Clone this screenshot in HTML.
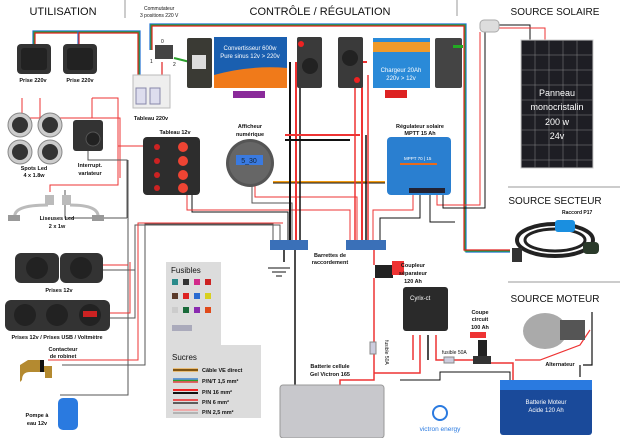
<!DOCTYPE html>
<html><head><meta charset="utf-8">
<style>
html,body{margin:0;padding:0;background:#fff;}
svg{display:block;font-family:"Liberation Sans",sans-serif;}
text{fill:#111;}
</style></head>
<body>
<svg width="620" height="438" viewBox="0 0 620 438">
<!-- headers -->
<g>
<text x="63" y="15" font-size="11" text-anchor="middle">UTILISATION</text>
<line x1="125" y1="0" x2="125" y2="18" stroke="#999" stroke-width="1"/>
<text x="144" y="10" font-size="5" fill="#333">Commutateur</text>
<text x="140" y="17" font-size="5" fill="#333">3 positions 220 V</text>
<text x="320" y="15" font-size="11" text-anchor="middle">CONTRÔLE / RÉGULATION</text>
<line x1="457" y1="0" x2="457" y2="16" stroke="#999" stroke-width="1"/>
<text x="555" y="15" font-size="10" text-anchor="middle">SOURCE SOLAIRE</text>
<line x1="508" y1="187" x2="620" y2="187" stroke="#999"/>
<text x="555" y="204" font-size="10" text-anchor="middle">SOURCE SECTEUR</text>
<text x="262" y="214" font-size="5" font-weight="bold" transform="translate(300,0)">Raccord P17</text>
<line x1="508" y1="282" x2="620" y2="282" stroke="#999"/>
<text x="555" y="302" font-size="10" text-anchor="middle">SOURCE MOTEUR</text>
</g>

<!-- rainbow 220V wires -->
<g fill="none" stroke-width="1.2">
<polyline points="33,44 33,31 140,31 140,75" stroke="#1e6fd0"/>
<polyline points="34,44 34,32 139,32 139,75" stroke="#2ca02c"/>
<polyline points="35,44 35,33 138,33 138,75" stroke="#e02020"/>
<polyline points="78,44 78,31" stroke="#1e6fd0"/>
<polyline points="79,44 79,32" stroke="#e02020"/>
<polyline points="150,50 150,24 466,24 466,252 510,252" stroke="#1e6fd0"/>
<polyline points="151,50 151,25 465,25 465,251 510,251" stroke="#2ca02c"/>
<polyline points="152,50 152,26 464,26 464,250 510,250" stroke="#e02020"/>
<polyline points="174,58 190,62" stroke="#2ca02c" stroke-width="2"/>
<polyline points="162,62 162,75" stroke="#e02020"/>
</g>

<!-- DC wires -->
<g fill="none" stroke-width="1">
<polyline points="22,98 22,118 120,118 120,178 " stroke="#e33"/>
<polyline points="40,98 40,118" stroke="#e33"/>
<polyline points="92,98 92,118" stroke="#e33"/>
<polyline points="92,98 118,98 118,185 50,185 50,192" stroke="#e33"/>
<polyline points="118,146 143,146" stroke="#e33"/>
<polyline points="88,150 88,160 127,160 127,218" stroke="#555"/>
<polyline points="65,190 65,218 127,218" stroke="#555"/>
<polyline points="128,160 128,395 60,395" stroke="#555"/>
<polyline points="103,265 128,265" stroke="#e33"/>
<polyline points="103,270 135,270 135,225 280,225 280,240" stroke="#555"/>
<polyline points="110,313 130,313 130,262" stroke="#e33"/>
<polyline points="110,318 135,318 135,270" stroke="#555"/>
<polyline points="48,360 138,360 138,223 283,223" stroke="#e33"/>
<polyline points="62,365 145,365 145,224 273,224 273,240" stroke="#555"/>
<polyline points="192,195 192,212 288,212 288,240" stroke="#111"/>
<polyline points="187,195 187,210 350,210 350,240" stroke="#e33"/>
<polyline points="252,185 252,203 292,203 292,240" stroke="#555"/>
<polyline points="255,185 255,197 357,197 357,240" stroke="#e33"/>
<polyline points="273,182 385,182" stroke="#f39c12" stroke-width="2"/>
<polyline points="273,183 385,183" stroke="#111" stroke-width="1"/>
<polyline points="290,62 290,240" stroke="#111" stroke-width="2"/>
<polyline points="296,62 296,240" stroke="#e33" stroke-width="2"/>
<polyline points="300,62 300,240" stroke="#111" stroke-width="1.5"/>
<polyline points="367,62 362,62 362,240" stroke="#e33" stroke-width="2"/>
<polyline points="366,135 366,240" stroke="#111" stroke-width="1.5"/>
<polyline points="355,70 355,240" stroke="#e33" stroke-width="1.5"/>
<polyline points="368,75 368,240" stroke="#e33" stroke-width="1.5"/>
<polyline points="285,135 360,135" stroke="#e33" stroke-width="2"/>
<polyline points="285,140 350,140" stroke="#111" stroke-width="2"/>
<polyline points="413,195 413,210 373,210 373,240" stroke="#e33"/>
<polyline points="420,195 420,218 380,218 380,240" stroke="#111"/>
<polyline points="430,195 430,222 455,222" stroke="#111"/>
<polyline points="437,195 437,205 480,205 480,32" stroke="#e33"/>
<polyline points="443,195 443,208 485,208 485,32 497,26" stroke="#111"/>
<polyline points="498,25 530,25 530,40" stroke="#111"/>
<polyline points="498,28 545,28 545,40" stroke="#e33"/>
<polyline points="284,250 284,262" stroke="#111" stroke-width="1.5"/>
<polyline points="295,250 295,395" stroke="#111" stroke-width="1.5"/>
<polyline points="374,250 374,265" stroke="#e33" stroke-width="1.5"/>
<polyline points="374,278 374,380 340,380 340,390" stroke="#e33" stroke-width="1.5"/>
<polyline points="374,373 420,373 420,335" stroke="#e33" stroke-width="1.5"/>
<polyline points="413,335 413,360" stroke="#e33" stroke-width="1.5"/>
<polyline points="428,335 428,360" stroke="#111" stroke-width="1.5"/>
<polyline points="436,335 436,360 485,360" stroke="#e33" stroke-width="1.5"/>
<polyline points="400,380 440,380 440,372 510,372 510,382" stroke="#111" stroke-width="1"/>
<polyline points="487,363 513,363 513,385" stroke="#e33" stroke-width="1.5"/>
<polyline points="580,365 580,377" stroke="#111" stroke-width="1.2"/>
<polyline points="592,312 592,365 583,365" stroke="#111" stroke-width="1.2"/>
<polyline points="590,330 580,345 540,360 515,360" stroke="#e33" stroke-width="1.2"/>
</g>

<!-- sockets 220 -->
<g>
<rect x="17" y="44" width="34" height="30" rx="4" fill="#333"/>
<rect x="21" y="48" width="26" height="22" rx="3" fill="#222"/>
<rect x="63" y="44" width="34" height="30" rx="4" fill="#333"/>
<rect x="67" y="48" width="26" height="22" rx="3" fill="#222"/>
<text x="33" y="82" font-size="5.5" text-anchor="middle" font-weight="bold">Prise 220v</text>
<text x="80" y="82" font-size="5.5" text-anchor="middle" font-weight="bold">Prise 220v</text>
</g>
<!-- commutateur & tableau 220 -->
<rect x="155" y="45" width="18" height="14" fill="#444"/>
<text x="161" y="43" font-size="5">0</text><text x="150" y="63" font-size="5">1</text><text x="173" y="66" font-size="5">2</text>
<rect x="133" y="75" width="37" height="33" fill="#eee" stroke="#bbb"/>
<rect x="136" y="88" width="10" height="16" fill="#dde" stroke="#88a"/><rect x="150" y="88" width="10" height="16" fill="#dde" stroke="#88a"/>
<text x="151" y="120" font-size="5.5" text-anchor="middle" font-weight="bold">Tableau 220v</text>

<!-- inverter -->
<g>
<rect x="187" y="38" width="25" height="50" rx="2" fill="#3a3a34"/>
<rect x="192" y="55" width="14" height="14" fill="#ddd"/>
<rect x="214" y="37" width="73" height="51" fill="#1a5fb0"/>
<path d="M214,75 Q250,65 287,68 L287,88 L214,88Z" fill="#f07a1a"/>
<text x="250" y="50" font-size="6" fill="#fff" text-anchor="middle" style="fill:#fff">Convertisseur 600w</text>
<text x="250" y="58" font-size="6" text-anchor="middle" style="fill:#fff">Pure sinus 12v &gt; 220v</text>
<rect x="233" y="91" width="32" height="7" fill="#8a2a9a"/>
</g>
<rect x="297" y="37" width="25" height="51" rx="2" fill="#3a3a3a"/>
<circle cx="301" cy="44" r="3" fill="#e22"/>
<circle cx="310" cy="66" r="8" fill="#222"/>
<rect x="338" y="37" width="25" height="51" rx="2" fill="#3a3a3a"/>
<circle cx="350" cy="58" r="8" fill="#222"/><circle cx="357" cy="80" r="3" fill="#e22"/>
<g>
<rect x="373" y="38" width="57" height="50" fill="#2a8ad8"/>
<rect x="373" y="42" width="57" height="10" fill="#f09a2a"/>
<text x="401" y="72" font-size="6" text-anchor="middle" style="fill:#fff">Chargeur 20Ah</text>
<text x="401" y="80" font-size="6" text-anchor="middle" style="fill:#fff">220v &gt; 12v</text>
<rect x="385" y="90" width="22" height="8" fill="#d22"/>
</g>
<rect x="435" y="38" width="27" height="50" rx="2" fill="#444"/>
<rect x="453" y="45" width="10" height="3" fill="#2a2"/>

<!-- spots -->
<g>
<circle cx="20" cy="125" r="12" fill="#ccc" stroke="#888"/><circle cx="20" cy="125" r="8" fill="#333"/>
<circle cx="50" cy="125" r="12" fill="#ccc" stroke="#888"/><circle cx="50" cy="125" r="8" fill="#333"/>
<circle cx="20" cy="152" r="12" fill="#ccc" stroke="#888"/><circle cx="20" cy="152" r="8" fill="#333"/>
<circle cx="50" cy="152" r="12" fill="#ccc" stroke="#888"/><circle cx="50" cy="152" r="8" fill="#333"/>
<text x="34" y="170" font-size="5.5" text-anchor="middle" font-weight="bold">Spots Led</text>
<text x="34" y="177" font-size="5.5" text-anchor="middle" font-weight="bold">4 x 1.8w</text>
</g>
<g>
<rect x="73" y="120" width="30" height="31" rx="3" fill="#333"/>
<circle cx="93" cy="139" r="7" fill="#222" stroke="#555"/>
<text x="90" y="167" font-size="5.5" text-anchor="middle" font-weight="bold">Interrupt.</text>
<text x="90" y="175" font-size="5.5" text-anchor="middle" font-weight="bold">variateur</text>
</g>
<g>
<rect x="45" y="195" width="9" height="10" fill="#bbb"/><rect x="62" y="195" width="9" height="10" fill="#bbb"/>
<path d="M15,218 Q12,205 48,205 M70,205 Q100,205 98,218" stroke="#bbb" stroke-width="3" fill="none"/>
<rect x="8" y="215" width="12" height="6" fill="#999"/><rect x="92" y="215" width="12" height="6" fill="#999"/>
<text x="57" y="220" font-size="5.5" text-anchor="middle" font-weight="bold">Liseuses Led</text>
<text x="57" y="228" font-size="5.5" text-anchor="middle" font-weight="bold">2 x 1w</text>
</g>
<!-- tableau 12v -->
<g>
<text x="175" y="134" font-size="5.5" text-anchor="middle" font-weight="bold">Tableau 12v</text>
<rect x="143" y="137" width="57" height="58" rx="4" fill="#2d2d2d"/>
<circle cx="157" cy="147" r="3" fill="#c22"/><circle cx="157" cy="161" r="3" fill="#c22"/><circle cx="157" cy="175" r="3" fill="#c22"/><circle cx="157" cy="188" r="3" fill="#c22"/>
<circle cx="183" cy="147" r="5" fill="#e43"/><circle cx="183" cy="161" r="5" fill="#e43"/><circle cx="183" cy="175" r="5" fill="#e43"/><circle cx="183" cy="188" r="5" fill="#e43"/>
</g>
<g>
<text x="250" y="128" font-size="5.5" text-anchor="middle" font-weight="bold">Afficheur</text>
<text x="250" y="136" font-size="5.5" text-anchor="middle" font-weight="bold">numérique</text>
<circle cx="250" cy="163" r="24" fill="#555"/><circle cx="250" cy="163" r="21" fill="#666"/>
<rect x="236" y="155" width="27" height="10" fill="#3a7ae0"/>
<text x="249" y="163" font-size="7" text-anchor="middle" style="fill:#123">5_30</text>
</g>
<g>
<text x="420" y="128" font-size="5.5" text-anchor="middle" font-weight="bold">Régulateur solaire</text>
<text x="420" y="135" font-size="5.5" text-anchor="middle" font-weight="bold">MPTT 15 Ah</text>
<rect x="387" y="137" width="64" height="58" rx="4" fill="#2a7fd0"/>
<rect x="400" y="163" width="37" height="2" fill="#e86a1a"/>
<text x="404" y="160" font-size="4.5" style="fill:#fff">MPPT 70 | 15</text>
<rect x="409" y="188" width="36" height="5" fill="#223"/>
</g>
<!-- solar panel -->
<rect x="480" y="20" width="19" height="12" rx="4" fill="#ddd" stroke="#aaa"/>
<g>
<rect x="521" y="40" width="72" height="128" fill="#1e1e24" stroke="#ccc"/>
<g stroke="#888" stroke-width="0.5">
<line x1="535" y1="40" x2="535" y2="168"/><line x1="549" y1="40" x2="549" y2="168"/><line x1="563" y1="40" x2="563" y2="168"/><line x1="577" y1="40" x2="577" y2="168"/>
<line x1="521" y1="55" x2="593" y2="55"/><line x1="521" y1="70" x2="593" y2="70"/><line x1="521" y1="85" x2="593" y2="85"/><line x1="521" y1="100" x2="593" y2="100"/><line x1="521" y1="115" x2="593" y2="115"/><line x1="521" y1="130" x2="593" y2="130"/><line x1="521" y1="145" x2="593" y2="145"/><line x1="521" y1="160" x2="593" y2="160"/>
</g>
<text x="557" y="96" font-size="9" text-anchor="middle" style="fill:#fff">Panneau</text>
<text x="557" y="110" font-size="9" text-anchor="middle" style="fill:#fff">monocristalin</text>
<text x="557" y="125" font-size="9" text-anchor="middle" style="fill:#fff">200 w</text>
<text x="557" y="139" font-size="9" text-anchor="middle" style="fill:#fff">24v</text>
</g>
<!-- cable P17 -->
<g>
<ellipse cx="555" cy="240" rx="38" ry="16" fill="none" stroke="#222" stroke-width="4"/>
<ellipse cx="555" cy="240" rx="30" ry="11" fill="none" stroke="#222" stroke-width="3"/>
<rect x="512" y="248" width="10" height="14" fill="#333"/>
<rect x="555" y="220" width="20" height="12" rx="3" fill="#1a8fe0"/>
<rect x="583" y="242" width="16" height="12" rx="4" fill="#2a3a2a"/>
</g>

<!-- barrettes -->
<g>
<rect x="270" y="240" width="38" height="10" fill="#3a70b8"/>
<rect x="346" y="240" width="40" height="10" fill="#3a70b8"/>
<text x="330" y="257" font-size="5.5" text-anchor="middle" font-weight="bold">Barrettes de</text>
<text x="330" y="264" font-size="5.5" text-anchor="middle" font-weight="bold">raccordement</text>
<g stroke="#111" stroke-width="1"><line x1="268" y1="268" x2="290" y2="268"/><line x1="272" y1="272" x2="286" y2="272"/><line x1="276" y1="276" x2="282" y2="276"/></g>
</g>
<!-- prises 12v -->
<g>
<rect x="15" y="253" width="44" height="30" rx="6" fill="#333"/><circle cx="37" cy="268" r="11" fill="#222"/>
<rect x="60" y="253" width="43" height="30" rx="6" fill="#333"/><circle cx="81" cy="268" r="11" fill="#222"/>
<text x="59" y="292" font-size="5.5" text-anchor="middle" font-weight="bold">Prises 12v</text>
<rect x="5" y="300" width="105" height="31" rx="6" fill="#333"/>
<circle cx="25" cy="315" r="11" fill="#222"/><circle cx="57" cy="315" r="11" fill="#222"/><circle cx="90" cy="315" r="11" fill="#222"/>
<rect x="83" y="311" width="14" height="6" fill="#c22"/>
<text x="57" y="339" font-size="5.5" text-anchor="middle" font-weight="bold">Prises 12v / Prises USB / Voltmètre</text>
</g>
<g>
<text x="63" y="351" font-size="5.5" text-anchor="middle" font-weight="bold">Contacteur</text>
<text x="63" y="358" font-size="5.5" text-anchor="middle" font-weight="bold">de robinet</text>
<path d="M28,360 L42,360 L42,366 L52,366 L52,378 L45,378 L45,372 L30,372 Q22,372 22,380 L20,382 L20,365 Z" fill="#b48a30"/>
<rect x="40" y="360" width="4" height="12" fill="#111"/>
<rect x="58" y="398" width="20" height="32" rx="5" fill="#2a7ae0"/>
<text x="37" y="417" font-size="5.5" text-anchor="middle" font-weight="bold">Pompe à</text>
<text x="37" y="425" font-size="5.5" text-anchor="middle" font-weight="bold">eau 12v</text>
</g>
<!-- legend -->
<g>
<path d="M166,262 H221 V345 H261 V418 H166 Z" fill="#dcdcdc"/>
<text x="171" y="273" font-size="8">Fusibles</text>
<rect x="172" y="279" width="6" height="6" fill="#2a8a8a"/><rect x="183" y="279" width="6" height="6" fill="#333"/><rect x="194" y="279" width="6" height="6" fill="#d22a8a"/><rect x="205" y="279" width="6" height="6" fill="#c22"/>
<rect x="172" y="293" width="6" height="6" fill="#5a3a2a"/><rect x="183" y="293" width="6" height="6" fill="#d22"/><rect x="194" y="293" width="6" height="6" fill="#2a6ad0"/><rect x="205" y="293" width="6" height="6" fill="#d8d020"/>
<rect x="172" y="307" width="6" height="6" fill="#ccc"/><rect x="183" y="307" width="6" height="6" fill="#1a6a3a"/><rect x="194" y="307" width="6" height="6" fill="#8a2ab0"/><rect x="205" y="307" width="6" height="6" fill="#e04a1a"/>
<rect x="172" y="325" width="20" height="6" fill="#aab"/>
<text x="172" y="360" font-size="8">Sucres</text>
<line x1="173" y1="370" x2="198" y2="370" stroke="#f39c12" stroke-width="3"/><line x1="173" y1="370" x2="198" y2="370" stroke="#111" stroke-width="1"/>
<text x="202" y="372" font-size="5.5" font-weight="bold">Câble VE direct</text>
<line x1="173" y1="379" x2="198" y2="379" stroke="#1e6fd0" stroke-width="1.2"/><line x1="173" y1="380.5" x2="198" y2="380.5" stroke="#2ca02c" stroke-width="1.2"/><line x1="173" y1="382" x2="198" y2="382" stroke="#e02020" stroke-width="1.2"/>
<text x="202" y="383" font-size="5.5" font-weight="bold">P/N/T 1,5 mm²</text>
<line x1="173" y1="390" x2="198" y2="390" stroke="#e22" stroke-width="2"/><line x1="173" y1="393" x2="198" y2="393" stroke="#111" stroke-width="2"/>
<text x="202" y="394" font-size="5.5" font-weight="bold">P/N 16 mm²</text>
<line x1="173" y1="400" x2="198" y2="400" stroke="#e22" stroke-width="1.5"/><line x1="173" y1="403" x2="198" y2="403" stroke="#333" stroke-width="1.5"/>
<text x="202" y="404" font-size="5.5" font-weight="bold">P/N 6 mm²</text>
<line x1="173" y1="410" x2="198" y2="410" stroke="#f77" stroke-width="1"/><line x1="173" y1="413" x2="198" y2="413" stroke="#888" stroke-width="1"/>
<text x="202" y="414" font-size="5.5" font-weight="bold">P/N 2,5 mm²</text>
</g>
<!-- battery cell -->
<g>
<text x="330" y="368" font-size="5.5" text-anchor="middle" font-weight="bold">Batterie cellule</text>
<text x="330" y="376" font-size="5.5" text-anchor="middle" font-weight="bold">Gel Victron 165</text>
<rect x="280" y="385" width="104" height="53" rx="3" fill="#c8c8cc" stroke="#999"/>
</g>
<!-- coupleur -->
<g>
<rect x="375" y="265" width="18" height="13" fill="#222"/><rect x="392" y="261" width="12" height="14" fill="#e33"/>
<text x="413" y="267" font-size="5.5" text-anchor="middle" font-weight="bold">Coupleur</text>
<text x="413" y="275" font-size="5.5" text-anchor="middle" font-weight="bold">séparateur</text>
<text x="413" y="283" font-size="5.5" text-anchor="middle" font-weight="bold">120 Ah</text>
<rect x="403" y="287" width="45" height="44" rx="3" fill="#2a2a2a"/>
<text x="410" y="300" font-size="6" style="fill:#fff">Cyrix-ct</text>
<rect x="370" y="342" width="6" height="12" fill="#ccd" stroke="#888"/>
<text x="385" y="340" font-size="5" transform="rotate(90 385 340)">fusible 50A</text>
</g>
<g>
<text x="480" y="314" font-size="5.5" text-anchor="middle" font-weight="bold">Coupe</text>
<text x="480" y="321" font-size="5.5" text-anchor="middle" font-weight="bold">circuit</text>
<text x="480" y="329" font-size="5.5" text-anchor="middle" font-weight="bold">100 Ah</text>
<rect x="470" y="332" width="16" height="6" fill="#e33"/>
<rect x="478" y="340" width="9" height="16" fill="#222"/><rect x="473" y="356" width="18" height="8" fill="#333"/>
<text x="442" y="354" font-size="5">fusible 50A</text>
<rect x="444" y="357" width="10" height="6" fill="#ccd" stroke="#888"/>
</g>
<g>
<ellipse cx="545" cy="331" rx="22" ry="18" fill="#aaa"/><rect x="560" y="320" width="25" height="20" fill="#555"/>
<text x="560" y="366" font-size="5.5" text-anchor="middle" font-weight="bold">Alternateur</text>
</g>
<g>
<rect x="500" y="380" width="92" height="55" rx="3" fill="#1a4a9a"/>
<rect x="500" y="380" width="92" height="10" fill="#2a7ae0"/>
<text x="546" y="404" font-size="6" text-anchor="middle" style="fill:#fff">Batterie Moteur</text>
<text x="546" y="412" font-size="6" text-anchor="middle" style="fill:#fff">Acide 120 Ah</text>
</g>
<g>
<circle cx="440" cy="413" r="7" fill="none" stroke="#2a7ae0" stroke-width="2"/>
<text x="440" y="431" font-size="6.5" text-anchor="middle" style="fill:#2a7ae0">victron energy</text>
</g>
</svg>
</body></html>
